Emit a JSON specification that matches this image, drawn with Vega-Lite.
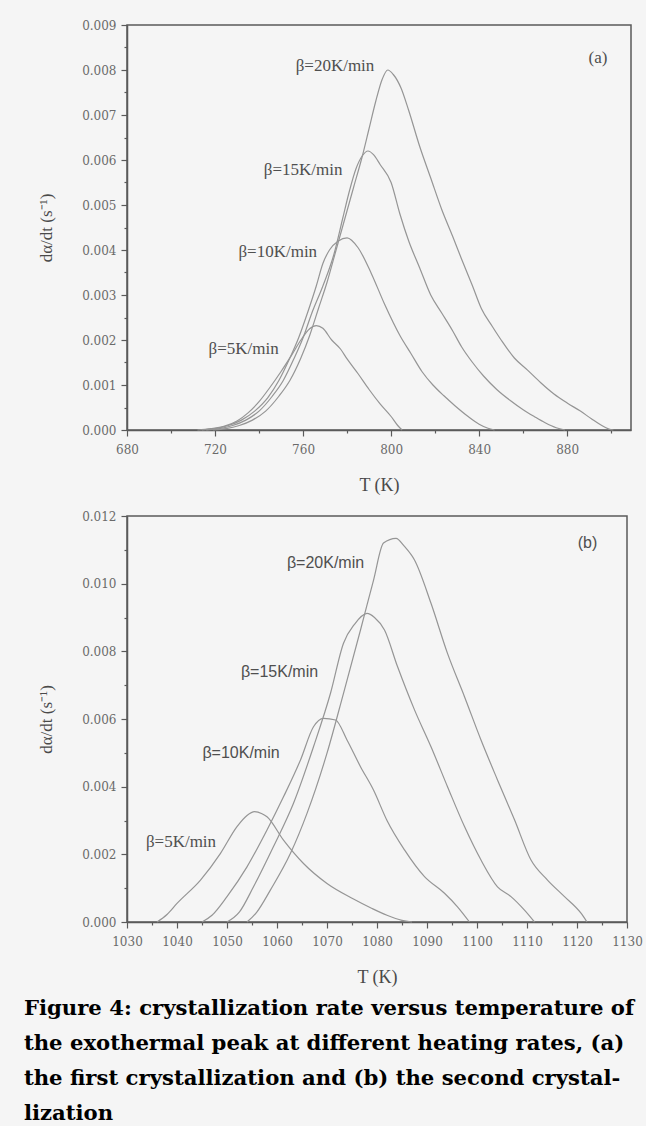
{
  "$schema": "https://vega.github.io/schema/vega-lite/v6.json",
  "background": "#f5f5f5",
  "padding": {"top": 18, "left": 23, "right": 2, "bottom": 2},
  "spacing": 14,
  "config": {
    "view": {"stroke": "#5a5a5a", "strokeWidth": 1.5},
    "axis": {
      "grid": false,
      "domainColor": "#5a5a5a",
      "domainWidth": 1.5,
      "tickColor": "#5a5a5a",
      "tickWidth": 1.2,
      "labelFont": "DejaVu Serif",
      "labelFontSize": 12,
      "labelColor": "#6a6a6a",
      "labelOverlap": false,
      "labelFlush": false,
      "labelBound": false,
      "titleFont": "Liberation Serif",
      "titleFontWeight": "normal",
      "titleColor": "#4a4a4a"
    }
  },
  "title": {
    "text": [
      "Figure 4: crystallization rate versus temperature of",
      "the exothermal peak at different heating rates, (a)",
      "the first crystallization and (b) the second crystal-",
      "lization"
    ],
    "orient": "bottom",
    "anchor": "start",
    "frame": "bounds",
    "dx": -13,
    "offset": 11,
    "font": "DejaVu Serif",
    "fontSize": 21.2,
    "fontWeight": "bold",
    "color": "#000000",
    "lineHeight": 35
  },
  "datasets": {
    "curvesA": [
      {"T": 712, "v": 0, "rate": "5K"}, {"T": 718, "v": 0.00003, "rate": "5K"}, {"T": 724, "v": 0.00008, "rate": "5K"}, {"T": 730, "v": 0.0002, "rate": "5K"}, {"T": 735, "v": 0.00038, "rate": "5K"}, {"T": 740, "v": 0.00063, "rate": "5K"}, {"T": 745, "v": 0.00095, "rate": "5K"}, {"T": 750, "v": 0.0013, "rate": "5K"}, {"T": 755, "v": 0.00168, "rate": "5K"}, {"T": 759, "v": 0.002, "rate": "5K"}, {"T": 763, "v": 0.00225, "rate": "5K"}, {"T": 766, "v": 0.00232, "rate": "5K"}, {"T": 769, "v": 0.00226, "rate": "5K"}, {"T": 773, "v": 0.002, "rate": "5K"}, {"T": 777, "v": 0.0018, "rate": "5K"}, {"T": 780, "v": 0.00158, "rate": "5K"}, {"T": 785, "v": 0.00125, "rate": "5K"}, {"T": 790, "v": 0.0009, "rate": "5K"}, {"T": 795, "v": 0.00058, "rate": "5K"}, {"T": 800, "v": 0.0003, "rate": "5K"}, {"T": 803, "v": 0.0001, "rate": "5K"}, {"T": 805, "v": 0, "rate": "5K"},
      {"T": 714, "v": 0, "rate": "10K"}, {"T": 720, "v": 0.00003, "rate": "10K"}, {"T": 726, "v": 0.0001, "rate": "10K"}, {"T": 732, "v": 0.00022, "rate": "10K"}, {"T": 738, "v": 0.00042, "rate": "10K"}, {"T": 744, "v": 0.00072, "rate": "10K"}, {"T": 749, "v": 0.0011, "rate": "10K"}, {"T": 754, "v": 0.0016, "rate": "10K"}, {"T": 758, "v": 0.00205, "rate": "10K"}, {"T": 762, "v": 0.0026, "rate": "10K"}, {"T": 766, "v": 0.0032, "rate": "10K"}, {"T": 769, "v": 0.0037, "rate": "10K"}, {"T": 772, "v": 0.004, "rate": "10K"}, {"T": 776, "v": 0.0042, "rate": "10K"}, {"T": 780, "v": 0.00427, "rate": "10K"}, {"T": 785, "v": 0.00405, "rate": "10K"}, {"T": 791, "v": 0.00348, "rate": "10K"}, {"T": 797, "v": 0.0028, "rate": "10K"}, {"T": 804, "v": 0.0021, "rate": "10K"}, {"T": 809, "v": 0.0017, "rate": "10K"}, {"T": 814, "v": 0.0013, "rate": "10K"}, {"T": 819, "v": 0.001, "rate": "10K"}, {"T": 824, "v": 0.00076, "rate": "10K"}, {"T": 829, "v": 0.00054, "rate": "10K"}, {"T": 835, "v": 0.0003, "rate": "10K"}, {"T": 840, "v": 0.00013, "rate": "10K"}, {"T": 844, "v": 0.00004, "rate": "10K"}, {"T": 847, "v": 0, "rate": "10K"},
      {"T": 716, "v": 0, "rate": "15K"}, {"T": 722, "v": 0.00003, "rate": "15K"}, {"T": 728, "v": 0.0001, "rate": "15K"}, {"T": 734, "v": 0.00022, "rate": "15K"}, {"T": 740, "v": 0.00042, "rate": "15K"}, {"T": 746, "v": 0.00075, "rate": "15K"}, {"T": 751, "v": 0.0011, "rate": "15K"}, {"T": 756, "v": 0.0016, "rate": "15K"}, {"T": 760, "v": 0.00205, "rate": "15K"}, {"T": 764, "v": 0.0026, "rate": "15K"}, {"T": 769, "v": 0.0032, "rate": "15K"}, {"T": 774, "v": 0.0039, "rate": "15K"}, {"T": 778, "v": 0.0047, "rate": "15K"}, {"T": 781, "v": 0.0053, "rate": "15K"}, {"T": 784, "v": 0.0058, "rate": "15K"}, {"T": 787, "v": 0.0061, "rate": "15K"}, {"T": 789.5, "v": 0.0062, "rate": "15K"}, {"T": 792, "v": 0.00612, "rate": "15K"}, {"T": 795, "v": 0.0059, "rate": "15K"}, {"T": 800, "v": 0.0055, "rate": "15K"}, {"T": 804, "v": 0.0048, "rate": "15K"}, {"T": 808, "v": 0.0042, "rate": "15K"}, {"T": 813, "v": 0.0036, "rate": "15K"}, {"T": 818, "v": 0.003, "rate": "15K"}, {"T": 823, "v": 0.0026, "rate": "15K"}, {"T": 828, "v": 0.0022, "rate": "15K"}, {"T": 832, "v": 0.00185, "rate": "15K"}, {"T": 837, "v": 0.0015, "rate": "15K"}, {"T": 842, "v": 0.0012, "rate": "15K"}, {"T": 848, "v": 0.0009, "rate": "15K"}, {"T": 854, "v": 0.00066, "rate": "15K"}, {"T": 860, "v": 0.00045, "rate": "15K"}, {"T": 865, "v": 0.0003, "rate": "15K"}, {"T": 870, "v": 0.00016, "rate": "15K"}, {"T": 875, "v": 0.00005, "rate": "15K"}, {"T": 879, "v": 0, "rate": "15K"},
      {"T": 719, "v": 0, "rate": "20K"}, {"T": 725, "v": 0.00003, "rate": "20K"}, {"T": 731, "v": 0.0001, "rate": "20K"}, {"T": 737, "v": 0.00022, "rate": "20K"}, {"T": 743, "v": 0.00042, "rate": "20K"}, {"T": 749, "v": 0.00075, "rate": "20K"}, {"T": 754, "v": 0.0011, "rate": "20K"}, {"T": 759, "v": 0.0016, "rate": "20K"}, {"T": 763, "v": 0.0021, "rate": "20K"}, {"T": 767, "v": 0.0027, "rate": "20K"}, {"T": 771, "v": 0.0033, "rate": "20K"}, {"T": 775, "v": 0.004, "rate": "20K"}, {"T": 779, "v": 0.0047, "rate": "20K"}, {"T": 783, "v": 0.0054, "rate": "20K"}, {"T": 787, "v": 0.0061, "rate": "20K"}, {"T": 790, "v": 0.0067, "rate": "20K"}, {"T": 793, "v": 0.0073, "rate": "20K"}, {"T": 796, "v": 0.0078, "rate": "20K"}, {"T": 798.5, "v": 0.008, "rate": "20K"}, {"T": 801, "v": 0.0079, "rate": "20K"}, {"T": 804.5, "v": 0.0076, "rate": "20K"}, {"T": 808, "v": 0.0071, "rate": "20K"}, {"T": 813, "v": 0.0063, "rate": "20K"}, {"T": 818, "v": 0.0056, "rate": "20K"}, {"T": 823, "v": 0.0049, "rate": "20K"}, {"T": 828, "v": 0.0043, "rate": "20K"}, {"T": 832, "v": 0.0038, "rate": "20K"}, {"T": 837, "v": 0.0032, "rate": "20K"}, {"T": 841, "v": 0.0027, "rate": "20K"}, {"T": 846, "v": 0.0023, "rate": "20K"}, {"T": 850, "v": 0.002, "rate": "20K"}, {"T": 856, "v": 0.0016, "rate": "20K"}, {"T": 862, "v": 0.00133, "rate": "20K"}, {"T": 868, "v": 0.00105, "rate": "20K"}, {"T": 874, "v": 0.0008, "rate": "20K"}, {"T": 880, "v": 0.0006, "rate": "20K"}, {"T": 886, "v": 0.00042, "rate": "20K"}, {"T": 891, "v": 0.00025, "rate": "20K"}, {"T": 895, "v": 0.00012, "rate": "20K"}, {"T": 899, "v": 0.00002, "rate": "20K"}, {"T": 901, "v": 0, "rate": "20K"}
    ],
    "labelsA": [
      {"T": 774.5, "v": 0.0081, "label": "β=20K/min"},
      {"T": 760, "v": 0.00578, "label": "β=15K/min"},
      {"T": 748.5, "v": 0.00396, "label": "β=10K/min"},
      {"T": 733, "v": 0.00181, "label": "β=5K/min"},
      {"T": 894, "v": 0.00826, "label": "(a)"}
    ],
    "curvesB": [
      {"T": 1036, "v": 0, "rate": "5K"}, {"T": 1038, "v": 0.00022, "rate": "5K"}, {"T": 1040, "v": 0.00055, "rate": "5K"}, {"T": 1044.7, "v": 0.00124, "rate": "5K"}, {"T": 1048.7, "v": 0.00203, "rate": "5K"}, {"T": 1052, "v": 0.00282, "rate": "5K"}, {"T": 1054, "v": 0.00315, "rate": "5K"}, {"T": 1055.5, "v": 0.00326, "rate": "5K"}, {"T": 1057, "v": 0.0032, "rate": "5K"}, {"T": 1058, "v": 0.00311, "rate": "5K"}, {"T": 1061.3, "v": 0.00242, "rate": "5K"}, {"T": 1065.3, "v": 0.00173, "rate": "5K"}, {"T": 1070, "v": 0.00114, "rate": "5K"}, {"T": 1075.3, "v": 0.00068, "rate": "5K"}, {"T": 1079, "v": 0.0004, "rate": "5K"}, {"T": 1082, "v": 0.0002, "rate": "5K"}, {"T": 1085, "v": 0.00005, "rate": "5K"}, {"T": 1087, "v": 0, "rate": "5K"},
      {"T": 1045, "v": 0, "rate": "10K"}, {"T": 1047, "v": 0.0002, "rate": "10K"}, {"T": 1050, "v": 0.00075, "rate": "10K"}, {"T": 1054, "v": 0.00163, "rate": "10K"}, {"T": 1058, "v": 0.00272, "rate": "10K"}, {"T": 1061.3, "v": 0.0037, "rate": "10K"}, {"T": 1064.7, "v": 0.00479, "rate": "10K"}, {"T": 1067.3, "v": 0.00577, "rate": "10K"}, {"T": 1069.3, "v": 0.00602, "rate": "10K"}, {"T": 1071.7, "v": 0.00597, "rate": "10K"}, {"T": 1074, "v": 0.00538, "rate": "10K"}, {"T": 1076.7, "v": 0.00459, "rate": "10K"}, {"T": 1079.3, "v": 0.0039, "rate": "10K"}, {"T": 1082, "v": 0.003, "rate": "10K"}, {"T": 1085.5, "v": 0.00213, "rate": "10K"}, {"T": 1089.5, "v": 0.00134, "rate": "10K"}, {"T": 1093.5, "v": 0.00085, "rate": "10K"}, {"T": 1096.1, "v": 0.00045, "rate": "10K"}, {"T": 1098.5, "v": 0, "rate": "10K"},
      {"T": 1050, "v": 0, "rate": "15K"}, {"T": 1052.5, "v": 0.0003, "rate": "15K"}, {"T": 1055.3, "v": 0.00104, "rate": "15K"}, {"T": 1059.3, "v": 0.00223, "rate": "15K"}, {"T": 1063.3, "v": 0.00351, "rate": "15K"}, {"T": 1067.3, "v": 0.00518, "rate": "15K"}, {"T": 1070.7, "v": 0.00676, "rate": "15K"}, {"T": 1073.3, "v": 0.00824, "rate": "15K"}, {"T": 1075.5, "v": 0.0088, "rate": "15K"}, {"T": 1078, "v": 0.00912, "rate": "15K"}, {"T": 1079.5, "v": 0.009, "rate": "15K"}, {"T": 1081.5, "v": 0.00863, "rate": "15K"}, {"T": 1084.1, "v": 0.00755, "rate": "15K"}, {"T": 1087.5, "v": 0.00627, "rate": "15K"}, {"T": 1090.8, "v": 0.00518, "rate": "15K"}, {"T": 1094.1, "v": 0.004, "rate": "15K"}, {"T": 1097.5, "v": 0.00282, "rate": "15K"}, {"T": 1100.8, "v": 0.00183, "rate": "15K"}, {"T": 1104.1, "v": 0.00104, "rate": "15K"}, {"T": 1106.8, "v": 0.00075, "rate": "15K"}, {"T": 1109.5, "v": 0.00035, "rate": "15K"}, {"T": 1111.5, "v": 0, "rate": "15K"},
      {"T": 1054, "v": 0, "rate": "20K"}, {"T": 1056, "v": 0.0003, "rate": "20K"}, {"T": 1058.7, "v": 0.00095, "rate": "20K"}, {"T": 1062.7, "v": 0.00203, "rate": "20K"}, {"T": 1066, "v": 0.00321, "rate": "20K"}, {"T": 1070, "v": 0.00499, "rate": "20K"}, {"T": 1073.3, "v": 0.00676, "rate": "20K"}, {"T": 1076.7, "v": 0.00863, "rate": "20K"}, {"T": 1079.3, "v": 0.0101, "rate": "20K"}, {"T": 1081.3, "v": 0.0112, "rate": "20K"}, {"T": 1083.8, "v": 0.01134, "rate": "20K"}, {"T": 1085.5, "v": 0.0111, "rate": "20K"}, {"T": 1087.5, "v": 0.0107, "rate": "20K"}, {"T": 1090.8, "v": 0.00942, "rate": "20K"}, {"T": 1094.1, "v": 0.00794, "rate": "20K"}, {"T": 1097.5, "v": 0.00666, "rate": "20K"}, {"T": 1100.8, "v": 0.00538, "rate": "20K"}, {"T": 1104.1, "v": 0.0042, "rate": "20K"}, {"T": 1107.5, "v": 0.00302, "rate": "20K"}, {"T": 1110.8, "v": 0.00183, "rate": "20K"}, {"T": 1114.1, "v": 0.00124, "rate": "20K"}, {"T": 1117.5, "v": 0.00075, "rate": "20K"}, {"T": 1120.8, "v": 0.00026, "rate": "20K"}, {"T": 1122, "v": 0, "rate": "20K"}
    ],
    "labelsBsans": [
      {"T": 1069.7, "v": 0.0106, "label": "β=20K/min"},
      {"T": 1060.5, "v": 0.0074, "label": "β=15K/min"},
      {"T": 1052.8, "v": 0.005, "label": "β=10K/min"},
      {"T": 1122.1, "v": 0.0112, "label": "(b)"}
    ],
    "labelsBserif": [
      {"T": 1040.8, "v": 0.00237, "label": "β=5K/min"}
    ]
  },
  "vconcat": [
    {
      "width": 504,
      "height": 405,
      "encoding": {
        "x": {
          "field": "T", "type": "quantitative",
          "scale": {"domain": [680, 909], "nice": false, "zero": false},
          "axis": {
            "title": "T (K)", "titleFontSize": 18, "titlePadding": 21,
            "values": [680, 700, 720, 740, 760, 780, 800, 820, 840, 860, 880, 900],
            "format": "d",
            "labelExpr": "datum.value % 40 == 0 ? datum.label : ''",
            "tickSize": {"condition": {"test": "datum.value % 40 == 0", "value": 6}, "value": 3},
            "labelPadding": 8
          }
        },
        "y": {
          "field": "v", "type": "quantitative",
          "scale": {"domain": [0, 0.009], "nice": false},
          "axis": {
            "title": "dα/dt (s⁻¹)", "titleFontSize": 17, "titlePadding": 26,
            "values": [0, 0.0005, 0.001, 0.0015, 0.002, 0.0025, 0.003, 0.0035, 0.004, 0.0045, 0.005, 0.0055, 0.006, 0.0065, 0.007, 0.0075, 0.008, 0.0085, 0.009],
            "labelExpr": "abs(datum.value*1000 - round(datum.value*1000)) < 1e-6 ? format(datum.value, '.3f') : ''",
            "tickSize": {"condition": {"test": "abs(datum.value*1000 - round(datum.value*1000)) < 1e-6", "value": 6}, "value": 3},
            "labelPadding": 5
          }
        }
      },
      "layer": [
        {
          "data": {"name": "curvesA"},
          "mark": {"type": "line", "color": "#959595", "strokeWidth": 1.2, "interpolate": "monotone"},
          "encoding": {"detail": {"field": "rate"}}
        },
        {
          "data": {"name": "labelsA"},
          "mark": {"type": "text", "font": "Liberation Serif", "fontSize": 17, "color": "#4f4f4f", "align": "center", "baseline": "middle"},
          "encoding": {"text": {"field": "label"}}
        }
      ]
    },
    {
      "width": 500,
      "height": 406,
      "encoding": {
        "x": {
          "field": "T", "type": "quantitative",
          "scale": {"domain": [1030, 1130], "nice": false, "zero": false},
          "axis": {
            "title": "T (K)", "titleFontSize": 18, "titlePadding": 21,
            "values": [1030, 1035, 1040, 1045, 1050, 1055, 1060, 1065, 1070, 1075, 1080, 1085, 1090, 1095, 1100, 1105, 1110, 1115, 1120, 1125, 1130],
            "format": "d",
            "labelExpr": "datum.value % 10 == 0 ? datum.label : ''",
            "tickSize": {"condition": {"test": "datum.value % 10 == 0", "value": 6}, "value": 3},
            "labelPadding": 8
          }
        },
        "y": {
          "field": "v", "type": "quantitative",
          "scale": {"domain": [0, 0.012], "nice": false},
          "axis": {
            "title": "dα/dt (s⁻¹)", "titleFontSize": 17, "titlePadding": 26,
            "values": [0, 0.001, 0.002, 0.003, 0.004, 0.005, 0.006, 0.007, 0.008, 0.009, 0.01, 0.011, 0.012],
            "labelExpr": "abs(datum.value*500 - round(datum.value*500)) < 1e-6 ? format(datum.value, '.3f') : ''",
            "tickSize": {"condition": {"test": "abs(datum.value*500 - round(datum.value*500)) < 1e-6", "value": 6}, "value": 3},
            "labelPadding": 5
          }
        }
      },
      "layer": [
        {
          "data": {"name": "curvesB"},
          "mark": {"type": "line", "color": "#959595", "strokeWidth": 1.2, "interpolate": "monotone"},
          "encoding": {"detail": {"field": "rate"}}
        },
        {
          "data": {"name": "labelsBsans"},
          "mark": {"type": "text", "font": "Liberation Sans", "fontSize": 16, "color": "#4f4f4f", "align": "center", "baseline": "middle"},
          "encoding": {"text": {"field": "label"}}
        },
        {
          "data": {"name": "labelsBserif"},
          "mark": {"type": "text", "font": "Liberation Serif", "fontSize": 17, "color": "#4f4f4f", "align": "center", "baseline": "middle"},
          "encoding": {"text": {"field": "label"}}
        }
      ]
    }
  ]
}
